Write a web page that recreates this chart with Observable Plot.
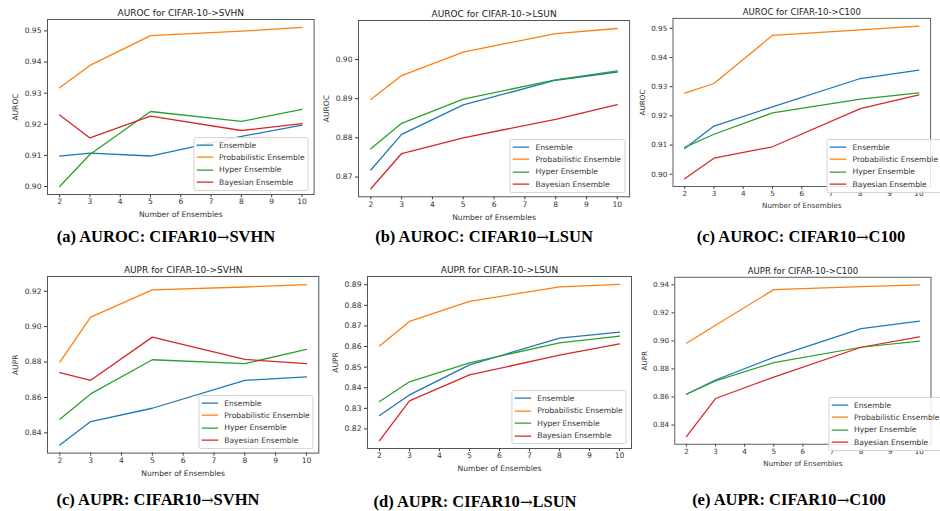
<!DOCTYPE html>
<html><head><meta charset="utf-8">
<script src="https://cdn.jsdelivr.net/npm/d3@7"></script>
<script src="https://cdn.jsdelivr.net/npm/@observablehq/plot@0.6"></script>
<style>
body{margin:0;background:#fff;}
#root{position:relative;width:940px;height:511px;overflow:hidden;background:#fff;}
.panel{position:absolute;}
.legend{position:absolute;transform:translate(-100%,-100%);border:1px solid #d4d4d4;border-radius:2px;background:rgba(255,255,255,0.85);font:7.6px "DejaVu Sans";color:#333;padding:1.2px 3px 1.2px 2px;}
.legend .row{display:flex;align-items:center;height:12.4px;white-space:nowrap;}
.legend svg{margin-right:6px;}
.caption{position:absolute;transform:translate(-50%,-50%);font:bold 16.5px "Liberation Serif","Times New Roman",serif;color:#000;white-space:nowrap;}
.caption .arr{font-family:"DejaVu Serif";font-weight:normal;font-size:15px;}
</style></head><body><div id="root"></div>
<script>
// ---- data ----
const ensembles = [2, 3, 5, 8, 10];
const methods = ["Ensemble", "Probabilistic Ensemble", "Hyper Ensemble", "Bayesian Ensemble"];
const colors = ["#1f77b4", "#ff7f0e", "#2ca02c", "#d62728"];

// rows follow the order of `methods`
const aurocSvhn = [
  [0.9098, 0.9107, 0.9098, 0.9161, 0.9197],
  [0.9317, 0.9389, 0.9485, 0.9499, 0.9511],
  [0.9000, 0.9103, 0.9241, 0.9209, 0.9248],
  [0.9230, 0.9156, 0.9226, 0.9180, 0.9202]
];
const aurocLsun = [
  [0.8718, 0.8809, 0.8884, 0.8947, 0.8968],
  [0.8898, 0.8959, 0.9019, 0.9066, 0.9079],
  [0.8772, 0.8837, 0.8899, 0.8948, 0.8971],
  [0.8670, 0.8760, 0.8800, 0.8847, 0.8885]
];
const aurocC100 = [
  [0.9088, 0.9165, 0.9231, 0.9328, 0.9357],
  [0.9278, 0.9311, 0.9476, 0.9495, 0.9508],
  [0.9092, 0.9137, 0.9210, 0.9257, 0.9279],
  [0.8984, 0.9055, 0.9094, 0.9225, 0.9272]
];
const auprSvhn = [
  [0.8331, 0.8464, 0.8539, 0.8697, 0.8716],
  [0.8800, 0.9054, 0.9208, 0.9224, 0.9238],
  [0.8477, 0.8620, 0.8813, 0.8791, 0.8871],
  [0.8740, 0.8697, 0.8941, 0.8815, 0.8791]
];
const auprLsun = [
  [0.8265, 0.8365, 0.8511, 0.8641, 0.8670],
  [0.8603, 0.8722, 0.8819, 0.8890, 0.8902],
  [0.8333, 0.8429, 0.8521, 0.8618, 0.8651],
  [0.8143, 0.8336, 0.8462, 0.8558, 0.8613]
];
const auprC100 = [
  [0.8620, 0.8721, 0.8883, 0.9088, 0.9142],
  [0.8984, 0.9112, 0.9366, 0.9387, 0.9400],
  [0.8620, 0.8715, 0.8845, 0.8955, 0.8998],
  [0.8317, 0.8589, 0.8742, 0.8955, 0.9029]
];

// ---- tick labels ----
const xTicks = [2, 3, 4, 5, 6, 7, 8, 9, 10];
const yTicksAurocSvhn = [0.90, 0.91, 0.92, 0.93, 0.94, 0.95];
const yTicksAurocLsun = [0.87, 0.88, 0.89, 0.90];
const yTicksAurocC100 = [0.90, 0.91, 0.92, 0.93, 0.94, 0.95];
const yTicksAuprSvhn = [0.84, 0.86, 0.88, 0.90, 0.92];
const yTicksAuprLsun = [0.82, 0.83, 0.84, 0.85, 0.86, 0.87, 0.88, 0.89];
const yTicksAuprC100 = [0.84, 0.86, 0.88, 0.90, 0.92, 0.94];

// ---- texts ----
const xLabel = "Number of Ensembles";
const titles = ["AUROC for CIFAR-10->SVHN", "AUROC for CIFAR-10->LSUN", "AUROC for CIFAR-10->C100",
                "AUPR for CIFAR-10->SVHN", "AUPR for CIFAR-10->LSUN", "AUPR for CIFAR-10->C100"];
const yLabels = ["AUROC", "AUROC", "AUROC", "AUPR", "AUPR", "AUPR"];
const captions = ["(a) AUROC: CIFAR10\u2192SVHN", "(b) AUROC: CIFAR10\u2192LSUN", "(c) AUROC: CIFAR10\u2192C100",
                  "(c) AUPR: CIFAR10\u2192SVHN", "(d) AUPR: CIFAR10\u2192LSUN", "(e) AUPR: CIFAR10\u2192C100"];

// ---- layout (frame edges and caption centres in page pixels) ----
const panelValues = [aurocSvhn, aurocLsun, aurocC100, auprSvhn, auprLsun, auprC100];
const panelTicks = [yTicksAurocSvhn, yTicksAurocLsun, yTicksAurocC100, yTicksAuprSvhn, yTicksAuprLsun, yTicksAuprC100];
const frames = [
  {L: 46.5, R: 313.1, T: 19.3, B: 194.3, cx: 166, cy: 237},
  {L: 358.4, R: 629.5, T: 20, B: 196.3, cx: 484, cy: 237},
  {L: 675.4, R: 946.6, T: 19.3, B: 196.3, cx: 801, cy: 237},
  {L: 47, R: 318.3, T: 275.7, B: 452.3, cx: 158, cy: 500},
  {L: 367.3, R: 631.3, T: 275.7, B: 447.7, cx: 475, cy: 501.5},
  {L: 677, R: 948, T: 277.7, B: 454.3, cx: 789, cy: 500}
];

const root = document.getElementById("root");
const ml = 50, mr = 10, mt = 22, mb = 32;

frames.forEach((f, i) => {
  const vals = panelValues[i];
  const rows = methods.flatMap((m, k) => ensembles.map((n, j) => ({n, v: vals[k][j], method: m})));
  const lo = d3.min(rows, d => d.v), hi = d3.max(rows, d => d.v);
  const pad = (hi - lo) * 0.05;
  const xpad = (ensembles[ensembles.length - 1] - ensembles[0]) * 0.05;
  const svg = Plot.plot({
    width: (f.R - f.L) + ml + mr,
    height: (f.B - f.T) + mt + mb,
    marginLeft: ml, marginRight: mr, marginTop: mt, marginBottom: mb,
    style: {fontFamily: "DejaVu Sans", fontSize: "7.6px", color: "#333", background: "transparent", overflow: "visible"},
    x: {domain: [ensembles[0] - xpad, ensembles[ensembles.length - 1] + xpad]},
    y: {domain: [lo - pad, hi + pad]},
    color: {domain: methods, range: colors},
    marks: [
      Plot.axisX({ticks: xTicks, tickSize: 3, tickPadding: 1.5, tickFormat: d => String(d), label: null}),
      Plot.axisY({ticks: panelTicks[i], tickSize: 3, tickPadding: 3, tickFormat: d3.format(".2f"), label: null}),
      Plot.line(rows, {x: "n", y: "v", stroke: "method", strokeWidth: 1.3}),
      Plot.frame({stroke: "#555", strokeWidth: 1}),
      Plot.text([titles[i]], {frameAnchor: "top", lineAnchor: "middle", textAnchor: "middle", dy: -6.8, fontSize: 9, fill: "#222"}),
      Plot.text([xLabel], {frameAnchor: "bottom", lineAnchor: "middle", textAnchor: "middle", dy: 20.5, fill: "#333"}),
      Plot.text([yLabels[i]], {frameAnchor: "left", lineAnchor: "middle", textAnchor: "middle", dx: -32, rotate: -90, fill: "#333"})
    ]
  });
  const wrap = document.createElement("div");
  wrap.className = "panel";
  wrap.style.left = (f.L - ml) + "px";
  wrap.style.top = (f.T - mt) + "px";
  wrap.appendChild(svg);
  root.appendChild(wrap);

  // legend (lower right, matplotlib style)
  const lg = document.createElement("div");
  lg.className = "legend";
  lg.style.left = (f.R - 4.5) + "px";
  lg.style.top = (f.B - 3.6) + "px";
  methods.forEach((m, k) => {
    const row = document.createElement("div");
    row.className = "row";
    row.innerHTML = `<svg width="17" height="4"><line x1="0" x2="17" y1="2" y2="2" stroke="${colors[k]}" stroke-width="1.3"/></svg><span>${m}</span>`;
    lg.appendChild(row);
  });
  root.appendChild(lg);

  const cap = document.createElement("div");
  cap.className = "caption";
  cap.style.left = f.cx + "px";
  cap.style.top = f.cy + "px";
  const parts = captions[i].split("\u2192");
  cap.append(parts[0]);
  const arr = document.createElement("span");
  arr.className = "arr";
  arr.textContent = "\u2192";
  cap.append(arr);
  cap.append(parts[1]);
  root.appendChild(cap);
});
</script></body></html>
